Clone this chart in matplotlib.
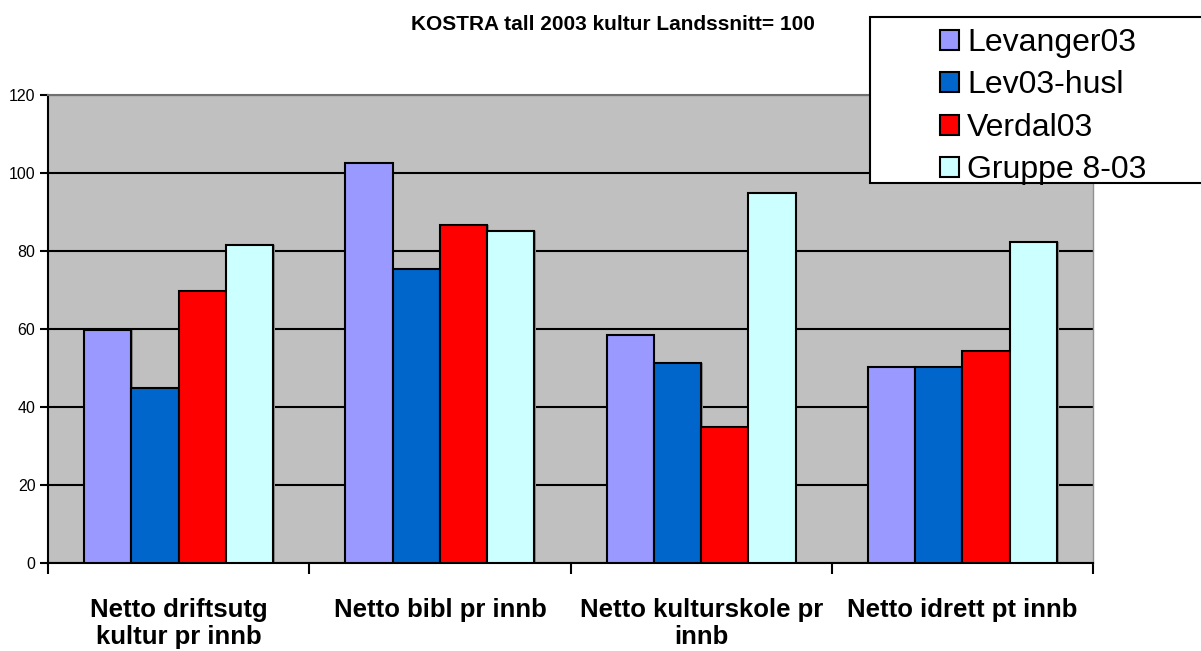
import matplotlib
matplotlib.use("Agg")
import matplotlib.pyplot as plt
from matplotlib.patches import Rectangle
import numpy as np

plt.rcParams['font.family'] = ['Liberation Sans', 'DejaVu Sans']

categories = ["Netto driftsutg\nkultur pr innb", "Netto bibl pr innb",
              "Netto kulturskole pr\ninnb", "Netto idrett pt innb"]
series_names = ["Levanger03", "Lev03-husl", "Verdal03", "Gruppe 8-03"]
levanger03 = [59.9, 102.6, 58.5, 50.2]
lev03_husl = [45.0, 75.3, 51.3, 50.2]
verdal03 = [69.7, 86.6, 34.8, 54.3]
gruppe8_03 = [81.5, 85.2, 94.9, 82.4]
series_values = [levanger03, lev03_husl, verdal03, gruppe8_03]
colors = ["#9999FF", "#0066CC", "#FF0000", "#CCFFFF"]
yticks = [0, 20, 40, 60, 80, 100, 120]

fig = plt.figure(figsize=(12.01, 6.51), dpi=100)
ax = fig.add_axes([48/1201, (651-563.3)/651, (1093-48)/1201, (563.3-95)/651])
ax.set_facecolor("#C0C0C0")

x = np.arange(len(categories))
w = 0.181
for i, (vals, c, name) in enumerate(zip(series_values, colors, series_names)):
    offs = (i - 1.5) * w
    ax.bar(x + offs + 0.006, vals, width=w, color="#8a8a8a", edgecolor="none", zorder=2)
    ax.bar(x + offs, vals, width=w, color=c, edgecolor="black", linewidth=1.5,
           label=name, zorder=3)

ax.set_xlim(-0.5, len(categories) - 0.5)
ax.set_ylim(0, 120)
ax.set_yticks(yticks)
ax.set_yticklabels([str(t) for t in yticks], fontsize=11.5)
ax.yaxis.grid(True, color="black", linewidth=1.5, zorder=1)
ax.set_axisbelow(True)
ax.tick_params(axis='y', length=6, width=1.5, pad=3)

ax.set_xticks(np.arange(-0.5, len(categories) + 0.5, 1.0), minor=False)
ax.set_xticklabels([])
ax.set_xticks(x, minor=True)
ax.set_xticklabels(categories, minor=True, fontsize=18.5, fontweight='bold', linespacing=1.15)
ax.tick_params(axis='x', which='major', length=8, width=1.5, direction='out')
ax.tick_params(axis='x', which='minor', length=0, pad=25)

ax.spines['right'].set_color("#909090")
ax.spines['right'].set_linewidth(1.0)
ax.spines['top'].set_color("#707070")
ax.spines['top'].set_linewidth(1.5)
ax.spines['left'].set_linewidth(1.5)
ax.spines['bottom'].set_linewidth(1.5)

fig.text(613/1201, 1 - 25/651, "KOSTRA tall 2003 kultur Landssnitt= 100",
         ha='center', va='center', fontsize=15, fontweight='bold')

# legend frame (extends past right edge like the reference)
fig.patches.append(Rectangle((870/1201, 1 - 183/651), 340/1201, 166/651,
                             transform=fig.transFigure, facecolor='white',
                             edgecolor='black', linewidth=1.5, zorder=5))
leg = fig.legend(loc='upper left', bbox_to_anchor=(940/1201, 1 - 28/651),
                 fontsize=23, frameon=False,
                 handlelength=0.6, handleheight=0.6, handletextpad=0.25,
                 labelspacing=0.39, borderpad=0, borderaxespad=0)
leg.set_zorder(6)

fig.savefig("out.png", dpi=100)
